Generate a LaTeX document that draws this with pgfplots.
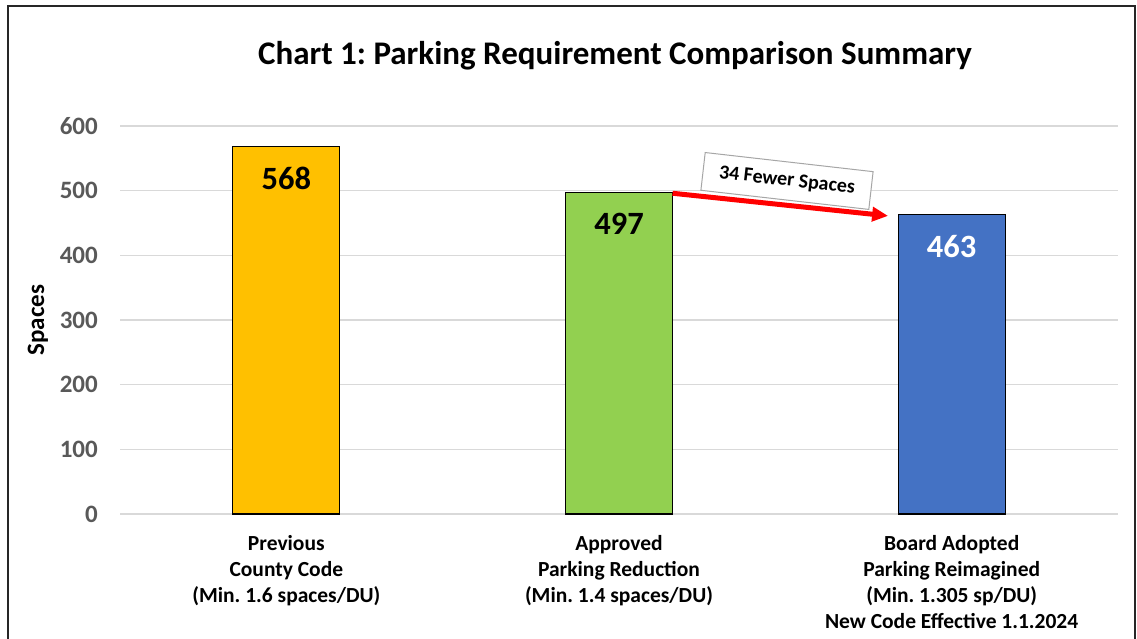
\documentclass[border=0pt]{standalone}
\usepackage{pgfplots}
\pgfplotsset{compat=1.18}
\usetikzlibrary{arrows.meta}
\usepackage{fontspec}
\setmainfont{Carlito}
\definecolor{cgold}{HTML}{FFC000}
\definecolor{cgreen}{HTML}{92D050}
\definecolor{cblue}{HTML}{4472C4}
\definecolor{cgrid}{HTML}{D9D9D9}
\definecolor{ctick}{HTML}{595959}
\definecolor{cbox}{HTML}{A6A6A6}
\frenchspacing
\begin{document}
\begin{tikzpicture}
\path[use as bounding box] (0pt,0pt) rectangle (1137pt,639pt);
\draw[line width=2pt, color=black!85] (8pt,-5pt) -- (8pt,633pt) -- (1135pt,633pt) -- (1135pt,-5pt);
\node[anchor=base, inner sep=0pt, font=\fontsize{33}{38}\selectfont\bfseries] at (615pt,574pt) {Chart 1: Parking Requirement Comparison Summary};
\begin{axis}[
  at={(120pt,125pt)}, anchor=south west,
  scale only axis, width=998pt, height=388pt,
  xmin=-0.5, xmax=2.5, ymin=0, ymax=600,
  clip=false,
  axis line style={draw=none},
  major tick length=0pt,
  ymajorgrids, grid style={color=cgrid, line width=1.3pt},
  ytick={0,100,200,300,400,500,600},
  xtick={0,1,2},
  xticklabels={{Previous\\County Code\\(Min. 1.6 spaces/DU)},
               {Approved\\Parking Reduction\\(Min. 1.4 spaces/DU)},
               {Board Adopted\\Parking Reimagined\\(Min. 1.305 sp/DU)\\New Code Effective 1.1.2024}},
  /pgf/number format/assume math mode=true,
  yticklabel style={font=\fontsize{25}{30}\selectfont\bfseries, color=ctick, anchor=east, inner sep=0pt, xshift=-22pt},
  xticklabel style={font=\fontsize{21.5}{26}\selectfont\bfseries, align=center, anchor=north, inner sep=0pt, yshift=-21pt},
  every axis y label/.style={at={(axis description cs:-0.0822,0.5)}, rotate=90, anchor=center, font=\fontsize{25}{30}\selectfont\bfseries},
  ylabel={Spaces},
  ybar, bar width=107pt, bar shift=0pt,
  nodes near coords,
  nodes near coords style={font=\fontsize{32.5}{38}\selectfont\bfseries, anchor=north, inner sep=0pt, yshift=-20pt},
]
\addplot[fill=cgold, draw=black, line width=1.3pt, nodes near coords style={color=black}] coordinates {(0,568)};
\addplot[fill=cgreen, draw=black, line width=1.3pt, nodes near coords style={color=black}] coordinates {(1,497)};
\addplot[fill=cblue, draw=black, line width=1.3pt, nodes near coords style={color=white}] coordinates {(2,463)};
\draw[color=red, line width=5pt, -{Triangle[length=16pt,width=14pt]}] (axis cs:1.161,496) -- (axis cs:1.809,461);
\node[draw=cbox, fill=white, line width=1pt, rotate=-6.5, minimum width=169pt, minimum height=38pt, inner sep=0pt, font=\fontsize{20}{24}\selectfont\bfseries] at (axis cs:1.505,515) {34 Fewer Spaces};
\end{axis}
\end{tikzpicture}
\end{document}
